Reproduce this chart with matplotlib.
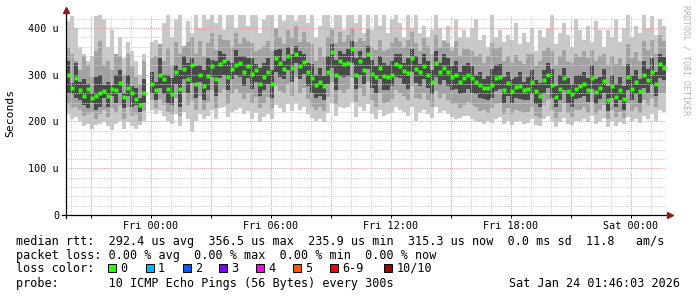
import numpy as np
import pandas as pd
import matplotlib
matplotlib.use("Agg")
import matplotlib.pyplot as plt
import matplotlib.dates as mdates
from matplotlib.patches import Rectangle
from matplotlib.lines import Line2D
from matplotlib.ticker import MultipleLocator, FuncFormatter

nan = np.nan

# 12-minute columns from Thu 19:46:03 to Sat 01:46:03, values in microseconds
start = pd.Timestamp("2026-01-22 19:46:03")
end = pd.Timestamp("2026-01-24 01:46:03")
times = pd.date_range(start, periods=150, freq="12min")

median = [
    300, 272, 292, 268, 255, 270, 250, 255, 262, 266,
    255, 270, 268, 282, 252, 272, 262, 248, 236, 262,
    nan, 280, 268, 300, 290, 270, 258, 305, 270, 312,
    290, 320, 280, 300, 275, 298, 318, 290, 322, 330,
    296, 312, 320, 325, 306, 318, 302, 310, 280, 295,
    305, 280, 335, 325, 312, 340, 315, 345, 318, 328,
    305, 292, 278, 284, 275, 306, 348, 300, 330, 322,
    325, 356, 300, 330, 310, 345, 302, 295, 315, 298,
    296, 300, 322, 318, 308, 303, 335, 312, 305, 318,
    300, 285, 325, 305, 315, 305, 295, 300, 285, 292,
    300, 292, 285, 278, 272, 272, 278, 292, 296, 268,
    282, 265, 274, 276, 268, 270, 285, 265, 255, 288,
    300, 278, 252, 270, 292, 265, 258, 270, 275, 280,
    268, 294, 264, 272, 286, 245, 275, 252, 268, 248,
    295, 270, 285, 265, 300, 288, 305, 280, 322, 315,
]

ping_max = [
    415, 425, 400, 360, 345, 330, 340, 425, 428, 420,
    360, 395, 340, 380, 335, 370, 350, 330, 300, 345,
    nan, 370, 375, 360, 410, 428, 380, 420, 428, 360,
    415, 390, 428, 400, 428, 420, 428, 410, 428, 395,
    428, 428, 400, 428, 428, 405, 428, 428, 390, 420,
    428, 428, 400, 428, 415, 428, 428, 415, 428, 428,
    410, 428, 380, 405, 428, 428, 400, 428, 428, 395,
    428, 428, 410, 428, 390, 428, 395, 428, 405, 428,
    390, 420, 428, 410, 380, 428, 400, 428, 390, 405,
    380, 395, 428, 400, 375, 405, 360, 420, 380, 395,
    380, 400, 420, 375, 385, 360, 428, 380, 395, 370,
    385, 375, 410, 365, 390, 370, 400, 350, 395, 380,
    400, 428, 365, 390, 410, 385, 360, 420, 395, 375,
    405, 370, 415, 395, 360, 395, 380, 420, 370, 400,
    428, 380, 405, 390, 428, 400, 425, 385, 420, 405,
]

ping_hi2 = [
    360, 345, 330, 310, 340, 320, 295, 350, 372, 320,
    330, 310, 345, 340, 300, 345, 318, 295, 280, 330,
    nan, 335, 340, 365, 330, 355, 320, 370, 345, 362,
    370, 380, 345, 372, 340, 368, 390, 352, 385, 375,
    375, 360, 390, 365, 380, 372, 368, 350, 355, 362,
    372, 350, 400, 380, 365, 395, 380, 405, 370, 392,
    370, 365, 330, 360, 338, 380, 395, 368, 392, 370,
    385, 400, 370, 378, 372, 398, 360, 352, 375, 350,
    355, 368, 380, 372, 360, 375, 392, 368, 350, 378,
    362, 345, 385, 360, 372, 368, 350, 372, 340, 355,
    355, 350, 340, 345, 325, 340, 368, 355, 360, 330,
    340, 325, 342, 330, 322, 345, 345, 318, 330, 350,
    360, 350, 320, 340, 352, 330, 325, 345, 338, 350,
    335, 352, 330, 340, 345, 320, 340, 322, 335, 318,
    365, 335, 348, 330, 372, 352, 375, 345, 385, 372,
]

ping_hi3 = [
    330, 282, 325, 285, 290, 280, 262, 295, 300, 278,
    285, 278, 300, 310, 262, 300, 275, 272, 250, 290,
    nan, 305, 285, 335, 300, 300, 292, 320, 310, 340,
    325, 335, 318, 320, 310, 335, 332, 330, 350, 345,
    330, 325, 352, 340, 340, 335, 335, 322, 315, 325,
    335, 310, 352, 355, 330, 360, 345, 362, 350, 345,
    325, 322, 300, 315, 298, 340, 365, 332, 350, 345,
    355, 372, 335, 350, 335, 362, 332, 318, 340, 325,
    320, 330, 345, 345, 325, 335, 355, 340, 322, 345,
    330, 310, 350, 325, 345, 335, 318, 330, 305, 320,
    325, 318, 300, 305, 290, 298, 312, 320, 322, 295,
    305, 290, 295, 305, 285, 295, 310, 288, 282, 310,
    325, 312, 275, 300, 315, 292, 280, 298, 300, 305,
    292, 320, 290, 295, 312, 275, 300, 280, 295, 275,
    322, 298, 310, 290, 330, 312, 335, 305, 345, 338,
]

ping_lo3 = [
    262, 258, 250, 245, 235, 228, 240, 225, 232, 250,
    232, 255, 240, 262, 228, 255, 230, 235, 220, 240,
    nan, 262, 245, 272, 258, 240, 235, 280, 232, 290,
    262, 282, 250, 285, 245, 268, 295, 255, 292, 300,
    268, 290, 300, 295, 275, 292, 270, 285, 255, 268,
    280, 250, 305, 295, 290, 310, 285, 325, 290, 302,
    275, 262, 250, 255, 245, 280, 315, 268, 298, 295,
    298, 325, 270, 300, 280, 312, 272, 262, 290, 268,
    268, 275, 295, 292, 280, 270, 305, 282, 275, 290,
    272, 258, 295, 278, 288, 275, 268, 270, 258, 262,
    270, 262, 258, 250, 248, 245, 250, 265, 270, 240,
    255, 240, 250, 248, 245, 245, 258, 238, 232, 262,
    272, 250, 230, 245, 268, 240, 232, 248, 250, 255,
    242, 270, 238, 248, 262, 222, 250, 230, 245, 225,
    268, 245, 258, 240, 272, 262, 278, 255, 292, 288,
]

ping_lo2 = [
    240, 228, 232, 225, 212, 215, 218, 205, 215, 225,
    210, 228, 218, 235, 205, 232, 212, 215, 200, 222,
    nan, 245, 228, 248, 236, 220, 215, 250, 212, 262,
    235, 245, 225, 255, 225, 242, 268, 228, 262, 270,
    238, 258, 270, 262, 248, 260, 240, 252, 228, 240,
    252, 228, 275, 265, 262, 280, 255, 295, 262, 272,
    248, 232, 225, 230, 222, 252, 285, 238, 268, 262,
    270, 292, 242, 272, 255, 285, 245, 232, 262, 240,
    242, 248, 268, 262, 255, 245, 275, 250, 248, 262,
    245, 232, 265, 250, 258, 245, 238, 240, 228, 235,
    242, 235, 230, 222, 225, 218, 228, 238, 240, 215,
    228, 215, 225, 222, 218, 220, 232, 212, 208, 235,
    245, 225, 208, 220, 240, 218, 210, 225, 225, 230,
    218, 242, 215, 225, 236, 205, 225, 210, 220, 208,
    240, 222, 232, 218, 245, 235, 250, 230, 262, 260,
]

ping_min = [
    215, 205, 210, 200, 190, 195, 185, 192, 195, 198,
    190, 182, 195, 200, 185, 198, 190, 185, 192, 200,
    nan, 225, 215, 222, 212, 200, 195, 215, 190, 220,
    205, 178, 200, 215, 205, 212, 225, 205, 228, 232,
    210, 220, 225, 228, 215, 222, 205, 218, 198, 210,
    215, 205, 235, 228, 220, 238, 222, 240, 225, 232,
    215, 208, 200, 205, 198, 218, 240, 212, 232, 228,
    230, 242, 210, 232, 222, 238, 215, 205, 225, 212,
    215, 218, 230, 225, 220, 212, 232, 200, 218, 225,
    215, 208, 230, 218, 222, 215, 210, 205, 208, 212,
    212, 205, 200, 198, 195, 200, 196, 205, 210, 195,
    200, 192, 198, 200, 195, 196, 205, 192, 190, 205,
    212, 200, 188, 198, 208, 195, 192, 200, 202, 205,
    198, 212, 195, 200, 208, 188, 200, 190, 198, 195,
    210, 200, 206, 196, 212, 205, 215, 202, 225, 220,
]

loss_labels = ["0", "1", "2", "3", "4", "5", "6-9", "10/10"]
loss_colors = ["#26ff00", "#00b8ff", "#0059ff", "#7e00ff", "#ff00ea",
               "#ff5500", "#ff0000", "#a10000"]

W, H = 697, 297
fig = plt.figure(figsize=(W / 100, H / 100), dpi=100)
fig.patch.set_facecolor("white")
ax = fig.add_axes([66 / W, 1 - 215 / H, 600 / W, 200 / H])
ax.set_facecolor("white")

mono = "DejaVu Sans Mono"
step = pd.Timedelta(minutes=12) / pd.Timedelta(days=1)
x = mdates.date2num(times)

# smoke bands, outer to inner
bands = [
    (ping_min, ping_max, "#c8c8c8"),
    (ping_lo2, ping_hi2, "#a2a2a2"),
    (ping_lo3, ping_hi3, "#4a4a4a"),
]
for lo, hi, col in bands:
    lo = np.array(lo, dtype=float)
    hi = np.array(hi, dtype=float)
    ax.bar(x, hi - lo, bottom=lo, width=step, align="edge", color=col,
           linewidth=0, antialiased=False, zorder=1)

ax.plot(x + step / 2, median, linestyle="none", marker="s", ms=2.3,
        mec="none", color=loss_colors[0], zorder=4)

ax.set_xlim(mdates.date2num(start), mdates.date2num(end))
ax.set_ylim(0, 427.8)

# grid
ax.xaxis.set_major_locator(mdates.HourLocator(byhour=range(0, 24, 3)))
ax.xaxis.set_minor_locator(mdates.HourLocator())
ax.yaxis.set_major_locator(MultipleLocator(100))
ax.yaxis.set_minor_locator(MultipleLocator(20))


def xfmt(v, pos):
    d = mdates.num2date(v)
    return d.strftime("%a %H:%M") if d.hour % 6 == 0 else ""


def yfmt(v, pos):
    return "0" if v == 0 else f"{int(v)} u"


ax.xaxis.set_major_formatter(FuncFormatter(xfmt))
ax.yaxis.set_major_formatter(FuncFormatter(yfmt))
ax.set_axisbelow(False)
ax.grid(which="minor", color="#cfcfcf", linestyle=(0, (1, 1)), linewidth=0.75)
ax.grid(which="major", color="#e8a0a0", linestyle=(0, (1, 1)), linewidth=0.75)

for s in ax.spines.values():
    s.set_visible(False)
ax.tick_params(axis="x", which="major", length=2, width=0.7, pad=2,
               labelsize=7.25, color="black")
ax.tick_params(axis="x", which="minor", length=0)
ax.tick_params(axis="y", which="both", length=0, pad=5, labelsize=7.25)
for lab in ax.get_xticklabels() + ax.get_yticklabels():
    lab.set_fontfamily(mono)

# axes with arrow heads
ax.add_line(Line2D([-0.007, 1.005], [0, 0], transform=ax.transAxes,
                   color="black", lw=0.9, clip_on=False, zorder=5))
ax.add_line(Line2D([0, 0], [-0.015, 1.02], transform=ax.transAxes,
                   color="black", lw=0.9, clip_on=False, zorder=5))
ax.plot([1.007], [0], marker=">", ms=4.5, color="#8b1a1a",
        transform=ax.transAxes, clip_on=False, zorder=6)
ax.plot([0], [1.025], marker="^", ms=4.5, color="#8b1a1a",
        transform=ax.transAxes, clip_on=False, zorder=6)


def ftext(px, py, s, **kw):
    kw.setdefault("family", mono)
    kw.setdefault("fontsize", 8.5)
    kw.setdefault("va", "center")
    fig.text(px / W, 1 - py / H, s, **kw)


ftext(10, 113, "Seconds", rotation=90, ha="center", fontsize=8.2)
ftext(686, 5, "RRDTOOL / TOBI OETIKER", rotation=270, ha="center", va="top",
      fontsize=6, color="#b4b4b4")

ftext(16, 241, "median rtt:  292.4 us avg  356.5 us max  235.9 us min  "
      "315.3 us now  0.0 ms sd  11.8   am/s")
ftext(16, 255.3, "packet loss: 0.00 % avg  0.00 % max  0.00 % min  0.00 % now")
ftext(16, 268, "loss color:")
box_x = [108, 145.7, 182.7, 219, 256, 293, 330, 384.3]
for bx, lab, col in zip(box_x, loss_labels, loss_colors):
    fig.add_artist(Rectangle((bx / W, 1 - 272 / H), 8 / W, 8 / H,
                             transform=fig.transFigure, facecolor=col,
                             edgecolor="black", linewidth=0.7))
    ftext(bx + 12, 268, lab)
ftext(16, 283.7, "probe:       10 ICMP Echo Pings (56 Bytes) every 300s")
ftext(680, 283.7, "Sat Jan 24 01:46:03 2026", ha="right")

fig.savefig("out.png", dpi=100, facecolor="white")
